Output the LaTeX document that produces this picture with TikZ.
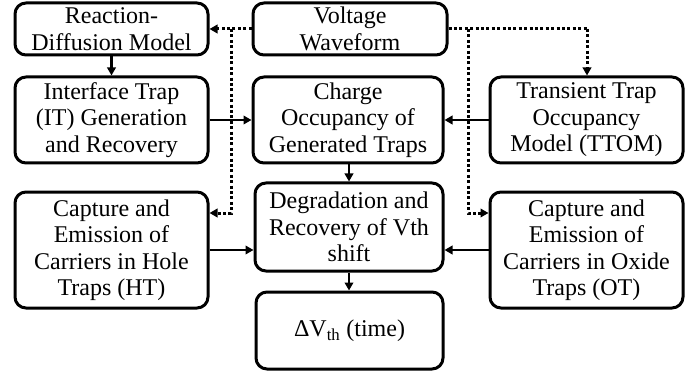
\documentclass[tikz,border=0pt]{standalone}
\usepackage{fontspec}
\setmainfont{Liberation Serif}
\usetikzlibrary{arrows.meta,calc}
\begin{document}
\begin{tikzpicture}[x=1pt,y=-1pt,
  box/.style={draw,line width=3pt,rounded corners=11pt,align=center,inner sep=0pt,
    font=\fontsize{24}{26.5}\selectfont},
  solidarr/.style={line width=2.4pt,-{Triangle[length=8pt,width=8.5pt]}},
  dotarr/.style={line width=3pt,dash pattern=on 3pt off 2.4pt,-{Triangle[length=8pt,width=8.5pt]}},
  dotline/.style={line width=3pt,dash pattern=on 3pt off 2.4pt}]
\useasboundingbox (0,0) rectangle (699,377);
\node[box,minimum width=193pt,minimum height=52pt] (rd) at (111.5,29) {Reaction-\\Diffusion Model};
\node[box,minimum width=194pt,minimum height=52pt] (vw) at (350,29) {Voltage\\Waveform};
\node[box,minimum width=193pt,minimum height=86pt] (it) at (111.5,120) {Interface Trap\\(IT) Generation\\and Recovery};
\node[box,minimum width=190pt,minimum height=86pt] (co) at (348,120) {Charge\\Occupancy of\\Generated Traps};
\node[box,minimum width=193pt,minimum height=86pt] (tt) at (586.5,120) {Transient Trap\\Occupancy\\Model (TTOM)};
\node[box,minimum width=188pt,minimum height=88pt] (dg) at (349,227) {Degradation and\\Recovery of Vth\\shift};
\node[box,minimum width=193pt,minimum height=116pt] (ht) at (111.5,250) {Capture and\\Emission of\\Carriers in Hole\\Traps (HT)};
\node[box,minimum width=193pt,minimum height=116pt] (ot) at (586.5,250) {Capture and\\Emission of\\Carriers in Oxide\\Traps (OT)};
\node[box,minimum width=187pt,minimum height=77pt] (dv) at (349.5,330.5) {ΔV\textsubscript{th} (time)};
% solid
\draw[solidarr] (rd) -- (it);
\draw[solidarr] (it) -- (co);
\draw[solidarr] (tt) -- (co);
\draw[solidarr] (co.south -| 349,0) -- (dg.north -| 349,0);
\draw[solidarr] (dg.south -| 349,0) -- (dv.north -| 349,0);
\draw[solidarr] (ht) -- (dg.west |- ht);
\draw[solidarr] (ot) -- (dg.east |- ot);
% dotted
\coordinate (jl) at (231,29);
\coordinate (jlb) at (231,213);
\coordinate (jr) at (468,29);
\coordinate (jrb) at (468,213);
\coordinate (jt) at (587,29);
\draw[dotarr] (vw.west) -- (rd.east);
\draw[dotarr] (jl) -- (jlb) -- (ht.east |- jlb);
\draw[dotline] (vw.east) -- (jt);
\draw[dotarr] (jt) -- (tt.north -| jt);
\draw[dotarr] (jr) -- (jrb) -- (ot.west |- jrb);
\end{tikzpicture}
\end{document}
